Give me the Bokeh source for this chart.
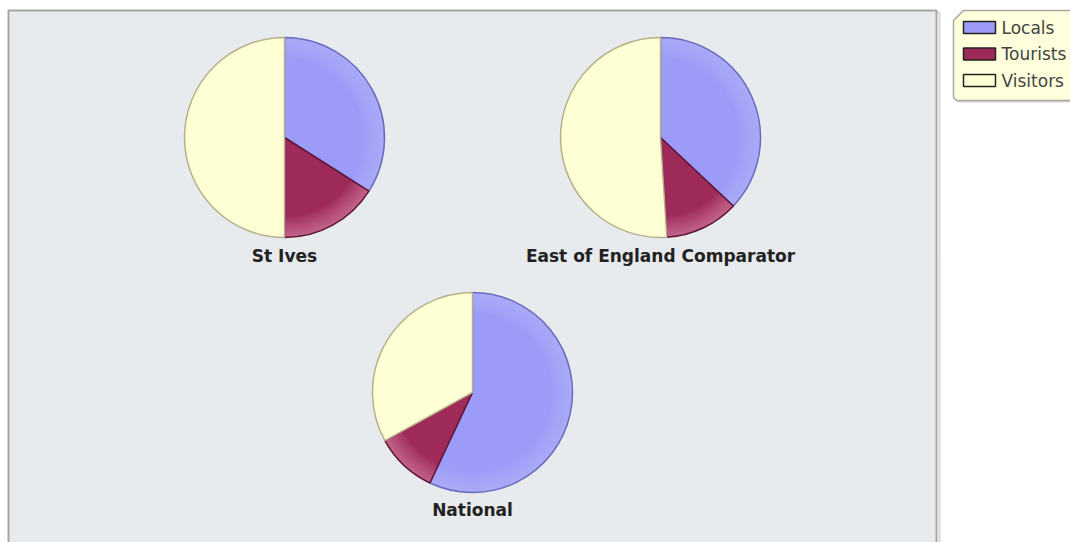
from bokeh.plotting import figure
from bokeh.models import Range1d
from bokeh.core.properties import value
from bokeh.embed import file_html
from bokeh.resources import INLINE
import math

# ---- data ----
regions = ["St Ives", "East of England Comparator", "National"]
categories = ["Locals", "Tourists", "Visitors"]
locals_pct = [34, 37, 57]
tourists_pct = [16, 12, 10]
visitors_pct = [50, 51, 33]

# ---- style / layout ----
W, H = 1070, 542
fills = ["#9c9cf8", "#9e2a5a", "#ffffd6"]
edges = ["#6a6abf", "#5e1535", "#b8b08c"]
centers = [(284, 137), (660, 137), (472, 392)]  # pixel positions (from top-left)
label_y = [255, 255, 509]
R = 100

p = figure(width=W, height=H, x_range=Range1d(0, W), y_range=Range1d(0, H),
           output_backend="svg", toolbar_location=None, min_border=0,
           background_fill_color="white", border_fill_color="white")
p.axis.visible = False
p.grid.visible = False
p.outline_line_color = None

# panel background (with soft shadow line)
p.quad(left=[10], right=[939], bottom=[-5], top=[H - 12],
       fill_color=None, line_color="#d8d8d8", line_width=2)
p.quad(left=[8], right=[936], bottom=[-5], top=[H - 10],
       fill_color="#e7ebee", line_color="#a6a6a6", line_width=2)

series = [locals_pct, tourists_pct, visitors_pct]
for i, region in enumerate(regions):
    vals = [s[i] for s in series]
    total = float(sum(vals))
    cx, cy = centers[i]
    start = math.pi / 2  # 12 o'clock, clockwise
    for k, v in enumerate(vals):
        sweep = 2 * math.pi * v / total
        end = start - sweep
        p.wedge(x=[cx], y=[H - cy], radius=R, start_angle=[end], end_angle=[start],
                direction="anticlock", fill_color=fills[k], line_color=None)
        # smooth shading near the rim
        if k < 2:
            shade = "#f2a6c6" if k == 1 else "#c8c8ff"
            steps = 8 if k == 1 else 6
            for s in range(steps):
                p.annular_wedge(x=[cx], y=[H - cy], inner_radius=R - 20 + s * 20 / steps,
                                outer_radius=R, start_angle=[end], end_angle=[start],
                                direction="anticlock", fill_color=shade,
                                fill_alpha=0.07, line_color=None)
        p.wedge(x=[cx], y=[H - cy], radius=R, start_angle=[end], end_angle=[start],
                direction="anticlock", fill_color=None, line_color=edges[k],
                line_width=1.5)
        start = end
    p.text(x=[cx], y=[H - label_y[i]], text=[region], text_align="center",
           text_baseline="middle", text_font=value("DejaVu Sans"),
           text_font_style="bold", text_font_size="17px", text_color="#222222")

# legend box with cut corner
lx0, lx1, ly0, ly1 = 953, 1075, 10, 100
c = 10
xs = [lx0 + c, lx1, lx1, lx0 + 3, lx0, lx0]
ys = [ly0, ly0, ly1, ly1, ly1 - 3, ly0 + c]
p.patch(x=[x + 2 for x in xs], y=[H - y - 2 for y in ys], fill_color="#d8d8d8",
        line_color=None)
p.patch(x=xs, y=[H - y for y in ys], fill_color="#ffffdc", line_color="#a8a8a0",
        line_width=1.5)
for k, cat in enumerate(categories):
    yy = 27 + 26.5 * k
    p.quad(left=[963], right=[995], top=[H - (yy - 6)], bottom=[H - (yy + 6)],
           fill_color=fills[k], line_color="#222222", line_width=1.5)
    p.text(x=[1001], y=[H - yy], text=[cat], text_align="left", text_baseline="middle",
           text_font=value("DejaVu Sans"), text_font_size="17px",
           text_color="#444444")

open("out.html", "w").write(file_html(p, INLINE))
